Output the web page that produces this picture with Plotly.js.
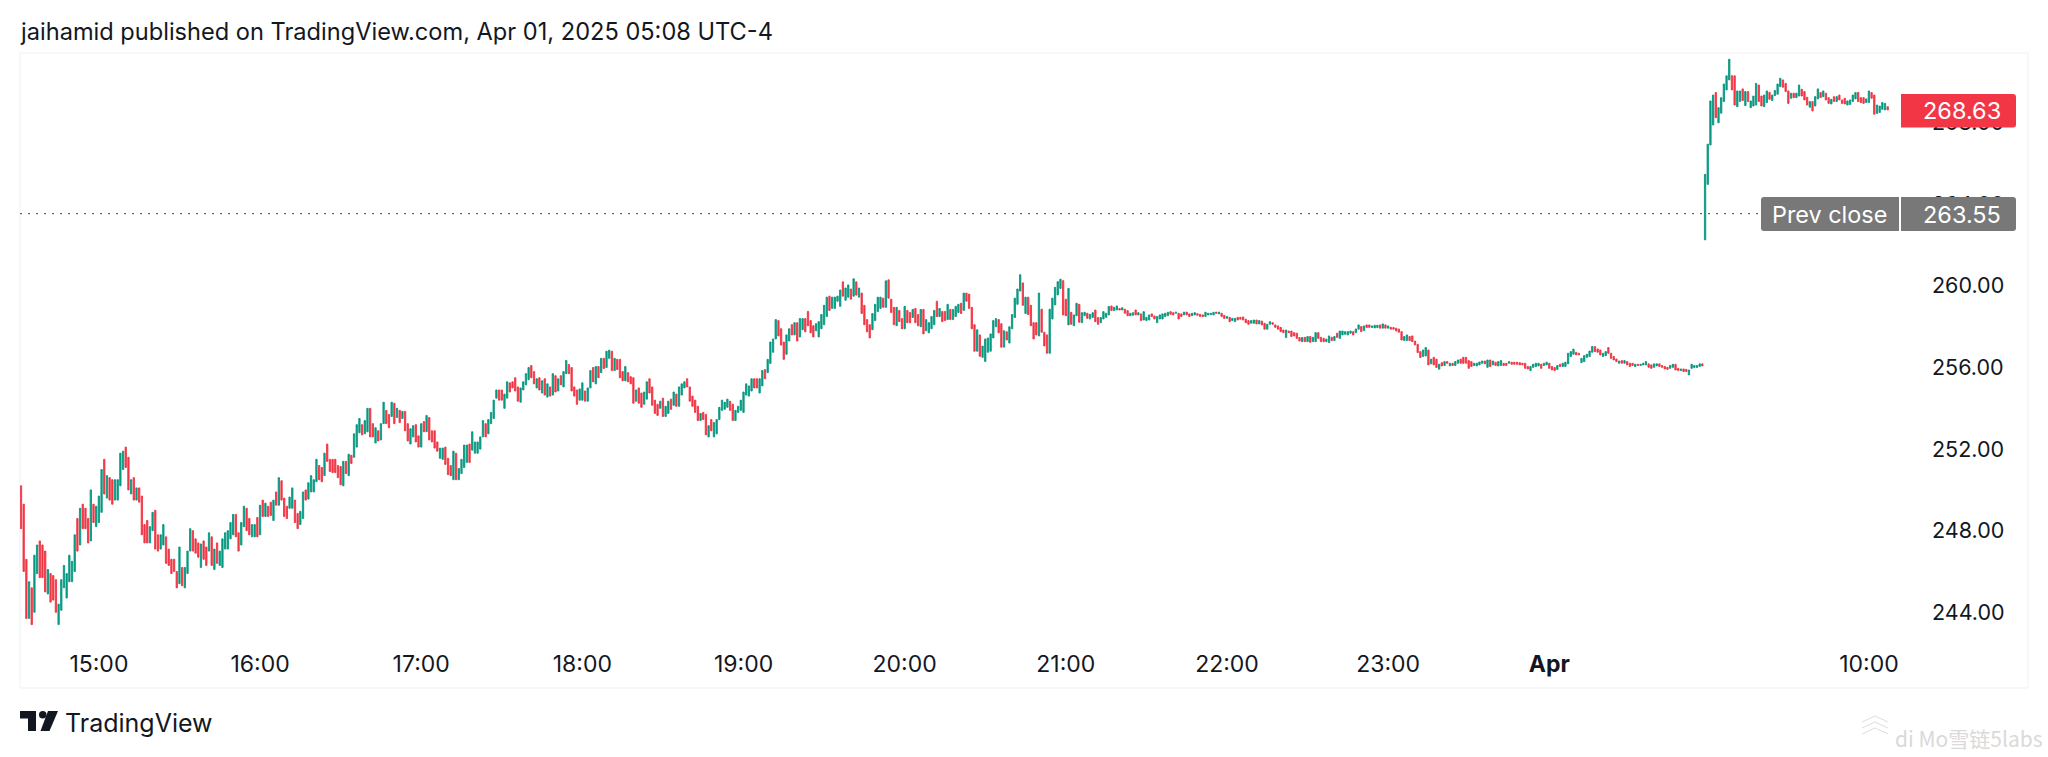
<!DOCTYPE html>
<html>
<head>
<meta charset="utf-8">
<script src="https://cdn.plot.ly/plotly-3.0.1.min.js"></script>
<style>html,body{margin:0;padding:0;background:#fff;overflow:hidden}#chart{width:2048px;height:757px}</style>
</head>
<body>
<div id="chart"></div>
<script>
// One-minute candles (open / close of each bar, in USD).
const o0=[250.2,249.3,246.6,243.7,245.2,244.0,245.9,247.5,247.3,247.0,244.9,245.9,245.8,245.6,243.4,244.1,245.2,244.7,245.5,245.5,246.0,248.6,247.3,249.3,249.1,248.6,247.5,249.3,248.2,248.4];
const c0=[248.1,246.0,243.7,245.5,243.4,246.8,247.3,245.7,245.7,245.0,246.1,244.5,244.6,244.0,244.4,245.6,246.3,245.9,246.8,246.5,247.8,247.0,249.1,248.1,248.1,247.4,250.0,248.4,249.2,249.7];
const o1=[248.9,251.5,249.6,250.6,250.5,249.5,249.5,250.2,251.0,252.1,251.6,249.8,250.6,249.5,250.1,249.7,248.3,248.5,247.4,248.0,249.0,247.8,247.1,247.3,247.7,247.1,246.6,246.6,246.0,245.4];
const c1=[251.0,249.8,250.7,249.5,249.3,250.5,250.5,251.8,251.9,251.1,250.0,250.5,249.5,250.1,249.4,247.8,247.4,247.4,248.2,248.9,247.1,247.0,247.8,248.3,246.4,246.3,245.9,246.0,245.2,247.2];
const o2=[246.2,245.2,245.9,247.0,248.0,247.6,247.4,246.2,247.5,247.2,247.0,247.7,246.1,247.4,246.3,246.2,247.1,247.1,247.6,247.8,248.8,247.9,247.3,248.2,249.1,248.6,247.7,247.7,248.65,247.8];
const c2=[245.3,246.2,247.0,248.1,247.0,246.9,246.7,247.35,246.6,246.3,247.9,246.3,247.1,246.4,247.0,247.6,247.9,248.0,248.4,248.8,247.7,247.0,248.4,249.2,248.0,247.8,248.3,248.3,247.7,249.25];
const o3=[249.5,248.7,249.2,249.4,248.5,249.9,249.25,250.45,249.6,249.2,249.1,249.1,249.5,248.85,248.3,248.6,250.0,249.55,249.9,249.9,250.4,251.2,251.1,250.7,252.25,251.5,251.5,251.5,251.2,251.15];
const c3=[248.7,249.35,248.7,248.75,249.5,249.25,250.6,249.5,248.7,248.6,249.65,250.1,248.4,248.1,248.95,249.9,249.5,250.35,250.7,250.5,251.5,250.5,250.4,251.8,251.4,250.9,250.85,250.85,250.6,250.25];
const o4=[250.2,251.4,250.7,251.7,251.6,252.1,252.8,253.2,252.75,252.85,254.0,253.25,252.3,252.9,252.45,253.25,253.9,253.7,253.6,254.25,253.55,253.9,253.5,253.85,253.25,252.25,252.6,253.2,252.65,252.1];
const c4=[251.4,250.8,251.75,251.3,252.75,253.2,253.5,252.7,253.4,254.0,252.6,252.6,253.05,252.4,253.25,254.3,253.25,253.05,254.3,253.25,254.0,253.3,253.85,252.9,252.4,253.0,253.15,252.35,252.1,253.25];
const o5=[253.35,252.85,253.55,252.9,252.9,252.35,251.55,251.5,252.1,251.55,251.2,250.5,251.8,250.5,250.8,251.1,251.35,252.25,251.95,251.8,251.8,252.0,252.6,253.25,252.75,253.25,253.5,254.5,254.9,254.9];
const c5=[252.85,253.65,252.45,252.35,252.05,251.9,252.05,252.05,251.25,250.75,250.7,251.9,250.5,251.05,251.5,252.2,252.2,251.35,252.85,252.35,252.35,252.6,253.4,252.6,253.45,253.8,254.4,254.9,254.4,254.4];
const o6=[254.0,254.5,255.25,255.3,255.5,255.05,254.3,254.9,255.15,255.4,256.1,255.8,255.0,255.5,254.75,255.45,254.55,255.05,254.65,255.6,254.85,255.6,255.05,255.7,256.15,256.0,255.05,254.9,254.4,254.4];
const c6=[254.7,255.3,254.8,255.0,254.85,254.35,255.0,255.3,255.7,256.0,255.5,255.2,255.45,254.9,255.35,254.65,255.2,254.6,255.7,254.8,255.45,255.15,255.8,256.35,255.7,254.85,254.6,254.2,254.95,255.25];
const o7=[254.85,254.35,255.0,256.0,255.2,256.05,255.75,256.45,256.0,256.45,256.8,255.85,256.4,256.4,255.8,255.35,255.75,255.55,255.5,254.35,255.0,254.75,254.2,254.45,255.45,255.05,254.4,254.2,254.0,254.5];
const c7=[254.35,255.0,255.85,255.3,256.05,255.5,256.45,255.95,256.8,256.85,255.85,256.45,255.9,255.5,255.35,256.05,255.3,255.2,254.25,254.9,254.25,254.05,254.8,255.3,254.75,254.15,253.75,253.65,254.35,253.6];
const o8=[253.6,253.75,254.45,254.15,254.7,254.1,254.65,255.0,255.45,255.05,254.6,254.4,254.1,253.4,253.8,253.7,252.6,253.45,252.6,252.75,253.45,253.9,253.95,254.05,254.35,254.2,253.4,253.8,253.9,253.8];
const c8=[254.1,254.35,253.95,254.8,254.1,255.05,255.2,255.3,255.05,254.35,254.1,253.8,253.4,253.75,253.45,252.7,253.15,252.9,253.3,253.45,254.05,254.4,254.3,254.45,253.9,253.4,253.9,254.1,254.4,254.8];
const o9=[254.65,254.6,254.85,255.45,255.45,254.75,255.1,255.9,255.75,256.2,256.75,257.4,258.3,257.9,257.25,256.65,257.3,258.1,257.6,258.2,257.5,257.85,258.4,258.75,258.3,258.05,257.8,257.5,257.9,258.1];
const c9=[255.2,255.1,255.45,255.0,255.0,255.45,255.85,255.45,256.4,257.25,257.4,258.35,257.55,257.1,256.4,257.6,257.9,257.6,258.2,257.3,258.4,258.4,257.75,258.05,257.7,257.5,258.15,258.25,258.6,259.05];
const o10=[258.5,259.5,258.9,258.9,259.25,259.0,260.2,259.3,259.45,259.85,259.5,260.2,259.45,259.65,259.05,258.35,258.1,257.85,258.3,258.75,258.9,259.4,258.95,260.3,259.35,258.95,258.05,258.8,258.4,257.9];
const c10=[259.45,258.8,259.45,259.45,259.5,259.8,259.5,259.9,260.05,259.35,260.35,259.55,259.9,258.65,258.1,257.75,257.45,258.65,259.1,259.45,259.45,258.95,260.25,259.4,258.7,258.1,258.95,258.25,257.9,259.0];
const o11=[258.8,258.7,258.45,258.9,258.6,258.0,258.85,257.8,257.7,257.9,258.1,259.25,258.5,258.75,258.75,258.35,258.85,258.35,258.5,258.7,259.15,258.8,259.65,259.6,258.95,258.1,256.8,257.6,256.5,256.3];
const c11=[258.2,258.2,258.85,258.2,258.05,258.85,257.65,258.35,258.2,258.5,258.8,258.5,258.9,258.25,258.3,259.1,258.35,258.85,259.0,259.1,258.65,259.65,259.25,258.9,257.9,256.8,257.85,256.55,257.05,257.4];
const o12=[256.75,256.8,257.45,258.0,258.35,258.15,257.0,257.75,257.2,257.9,258.45,259.1,259.75,260.15,258.65,259.45,259.05,258.2,258.2,257.55,258.86,257.73,257.6,256.7,258.38,259.07,259.56,259.88,260.26,259.35];
const c12=[257.45,257.65,258.3,258.4,257.7,257.0,257.8,257.35,258.0,258.6,259.4,259.85,260.55,259.05,259.45,258.6,258.05,257.4,257.6,259.65,257.73,257.06,256.7,258.86,259.4,259.93,260.21,260.33,258.58,258.54];
const o13=[258.09,258.71,258.05,258.54,259.1,258.2,258.54,258.66,258.38,258.45,258.82,258.45,258.2,258.38,258.46,258.58,259.02,258.79,258.82,258.9,258.82,258.86,258.79,258.54,258.56,258.82,258.58,258.63,258.33,258.3];
const c13=[259.88,258.12,258.58,259.15,258.22,258.69,258.71,258.41,258.61,258.69,258.25,258.12,258.45,258.74,258.66,258.99,258.79,258.95,259.02,258.82,258.93,258.66,258.54,258.66,258.69,258.58,258.69,258.3,258.74,258.46];
const o14=[258.33,258.63,258.53,258.2,258.38,258.38,258.5,258.54,258.74,258.69,258.66,258.66,258.63,258.58,258.72,258.63,258.54,258.58,258.64,258.61,258.58,258.5,258.58,258.59,258.58,258.72,258.63,258.66,258.56,258.41];
const c14=[258.58,258.5,258.38,258.5,258.58,258.63,258.66,258.71,258.61,258.58,258.71,258.38,258.5,258.72,258.58,258.5,258.66,258.69,258.56,258.5,258.5,258.71,258.66,258.66,258.71,258.66,258.72,258.5,258.41,258.5];
const o15=[258.46,258.3,258.25,258.46,258.46,258.48,258.37,258.3,258.17,258.17,258.33,258.14,258.28,258.17,257.88,258.12,258.2,258.09,258.04,257.97,257.84,257.47,257.79,257.79,257.71,257.68,257.47,257.27,257.48,257.27];
const c15=[258.25,258.41,258.41,258.33,258.37,258.33,258.2,258.12,258.3,258.33,258.14,258.3,258.09,257.88,258.12,258.25,258.12,257.97,257.88,257.76,257.71,257.84,257.71,257.52,257.55,257.43,257.3,257.47,257.27,257.52];
const o16=[257.52,257.27,257.27,257.71,257.48,257.43,257.27,257.22,257.48,257.32,257.68,257.43,257.6,257.63,257.6,257.68,257.76,257.71,257.88,258.01,257.81,258.09,258.09,257.96,257.94,257.96,258.09,257.93,258.09,257.93];
const c16=[257.24,257.48,257.71,257.43,257.27,257.27,257.39,257.55,257.32,257.52,257.48,257.79,257.79,257.76,257.76,257.79,257.6,257.89,258.09,257.76,258.04,257.96,257.97,258.04,258.07,258.07,257.93,258.14,257.93,258.04];
const o17=[257.97,257.96,257.93,257.89,257.76,257.32,257.32,257.52,257.55,257.3,257.14,256.78,256.54,256.57,256.86,256.18,256.5,256.41,255.92,256.24,256.1,256.29,256.08,256.21,256.1,256.21,256.41,256.5,256.5,256.34];
const c17=[257.88,257.88,257.79,257.73,257.35,257.52,257.6,257.32,257.27,257.11,256.73,256.49,256.86,256.98,256.13,256.41,256.13,256.0,256.16,256.08,256.29,256.21,256.21,256.1,256.29,256.37,256.21,256.21,256.21,255.96];
const o18=[256.29,256.1,256.08,256.13,256.21,256.32,256.01,256.37,256.13,256.26,256.08,256.1,256.21,256.21,256.21,256.26,256.26,256.26,256.24,256.21,256.21,256.05,255.85,256.01,256.05,256.08,256.16,256.1,256.13,256.21];
const c18=[256.05,256.21,256.21,256.27,256.32,256.18,256.37,256.05,256.32,256.1,256.29,256.34,256.1,256.1,256.29,256.16,256.16,256.16,256.13,256.13,255.96,255.93,256.05,256.16,256.21,256.21,255.96,256.21,256.26,255.96];
const o19=[256.05,256.0,255.91,256.16,256.05,256.05,256.18,256.54,256.65,256.75,256.7,256.24,256.29,256.5,256.54,256.75,257.03,256.91,256.86,256.54,256.58,256.98,256.7,256.54,256.42,256.21,256.34,256.21,256.29,256.21];
const c19=[255.88,255.85,256.1,256.05,256.21,256.26,256.7,256.78,256.9,256.62,256.62,256.45,256.585,256.65,256.81,257.03,256.78,256.75,256.62,256.7,256.78,256.7,256.45,256.37,256.29,256.32,256.21,256.34,256.13,256.05];
const o20=[256.21,256.05,256.16,256.1,256.13,256.13,256.18,256.13,256.01,256.08,256.18,256.1,256.05,256.01,255.96,256.01,256.16,255.96,255.85,255.93,255.91,255.64,255.96,256.0,256.0,256.05,256.18,262.26,264.98,266.91];
const c20=[256.1,256.16,256.1,256.16,256.21,256.29,256.01,255.96,256.18,256.18,256.05,256.01,255.93,255.91,256.1,256.16,255.88,255.85,255.93,255.8,255.8,255.88,256.16,256.1,256.1,256.18,256.08,265.47,266.95,269.07];
const o21=[267.89,269.48,268.0,268.47,269.04,269.61,270.1,270.31,270.3,268.79,269.04,269.66,268.84,269.53,268.74,268.82,268.87,269.85,269.31,268.79,268.99,269.49,269.09,269.33,269.4,269.77,270.1,269.93,269.56,269.2];
const c21=[269.36,268.25,268.74,269.23,269.9,270.3,271.11,269.61,268.87,269.56,269.56,269.09,269.53,269.04,269.07,269.31,269.93,269.04,268.82,269.36,269.56,269.15,269.36,269.58,269.9,270.18,269.74,269.53,268.95,269.45];
const o22=[269.45,269.23,269.31,269.64,269.53,269.25,268.76,269.04,268.82,269.17,269.48,269.28,269.45,269.23,268.92,269.28,269.04,269.36,269.12,269.2,268.87,268.9,269.04,269.17,269.49,269.23,269.23,268.99,268.99,269.48];
const c22=[269.23,269.45,269.85,269.31,269.12,268.87,269.04,268.58,269.28,269.66,269.23,269.56,269.12,268.95,269.15,269.04,269.28,269.12,268.95,268.92,269.07,269.12,269.36,269.48,269.04,268.99,268.95,269.17,269.56,269.2];
const o23=[269.36,268.46,268.5,268.66,268.63,268.79];
const c23=[268.42,268.87,268.82,268.99,268.95,268.63];

// Axis labels and reference levels
const tickLabels=['15:00','16:00','17:00','18:00','19:00','20:00','21:00','22:00','23:00','<b>Apr</b>','10:00'];
const tickBars=[29,89,149,209,269,329,389,449,509,569,688];
const priceTicks=[244,248,252,256,260,264,268];
const prevClose=263.55, lastPrice=268.63;

const open=[].concat(o0,o1,o2,o3,o4,o5,o6,o7,o8,o9,o10,o11,o12,o13,o14,o15,o16,o17,o18,o19,o20,o21,o22,o23);
const close=[].concat(c0,c1,c2,c3,c4,c5,c6,c7,c8,c9,c10,c11,c12,c13,c14,c15,c16,c17,c18,c19,c20,c21,c22,c23);
const bars=open.map((_,i)=>i);
// At this resolution wick and body cannot be told apart, so each bar spans its read extent.
const high=open.map((v,i)=>Math.max(v,close[i]));
const low=open.map((v,i)=>Math.min(v,close[i]));

const GREEN='#089981', RED='#F23645', INK='#131722', GREY='#787878', FONT='Inter, "Liberation Sans", sans-serif';
const W=2048,H=757,L=20,R=1928,T=53,B=648;
const px=x=>(x-L)/(R-L), py=y=>(B-y)/(B-T);
const P=(x,y)=>px(x).toFixed(5)+','+py(y).toFixed(5);
function rr(x0,y0,x1,y1,r,left,right){
  const a=left?r:0,b=right?r:0;
  return 'M'+P(x0+a,y0)+' L'+P(x1-b,y0)+(b?' Q'+P(x1,y0)+' '+P(x1,y0+b):'')+' L'+P(x1,y1-b)+(b?' Q'+P(x1,y1)+' '+P(x1-b,y1):'')+' L'+P(x0+a,y1)+(a?' Q'+P(x0,y1)+' '+P(x0,y1-a):'')+' L'+P(x0,y0+a)+(a?' Q'+P(x0,y0)+' '+P(x0+a,y0):'')+' Z';
}
const pshape=(path,fill,line)=>({type:'path',xref:'paper',yref:'paper',layer:'above',path,fillcolor:fill,line:line||{width:0}});
const note=(x,y,text,size,color,anchor,fam)=>({xref:'paper',yref:'paper',x:px(x),y:py(y),text,showarrow:false,xanchor:anchor||'center',yanchor:'middle',font:{family:fam||FONT,size,color}});
const logoT='M'+P(20,711)+' L'+P(36,711)+' L'+P(36,731)+' L'+P(28,731)+' L'+P(28,718.5)+' L'+P(20,718.5)+' Z';
const logoS='M'+P(48,711)+' L'+P(58,711)+' L'+P(49.5,731)+' L'+P(40.5,731)+' Z';
const chev=[716,722,728].map(y=>'M'+P(1862,y+6)+' L'+P(1875,y)+' L'+P(1888,y+6));

const trace={type:'candlestick',x:bars,open,high,low,close,
  increasing:{line:{color:GREEN,width:0.9},fillcolor:GREEN},
  decreasing:{line:{color:RED,width:0.9},fillcolor:RED},
  hoverinfo:'skip',showlegend:false};

const layout={width:W,height:H,margin:{l:L,r:W-R,t:T,b:H-B,pad:0},
  paper_bgcolor:'#fff',plot_bgcolor:'#fff',showlegend:false,dragmode:false,
  font:{family:FONT,color:INK,size:22},
  xaxis:{range:[-0.37,710],tickmode:'array',tickvals:tickBars,ticktext:tickLabels,showgrid:false,zeroline:false,showline:false,ticks:'',rangeslider:{visible:false},tickfont:{family:FONT,size:23,color:INK},fixedrange:true},
  yaxis:{side:'right',range:[242.25,271.42],tickmode:'array',tickvals:priceTicks,ticktext:priceTicks.map(v=>v.toFixed(2)),showgrid:false,zeroline:false,showline:false,ticks:'',ticklabelstandoff:3,tickfont:{family:FONT,size:21.5,color:INK},fixedrange:true},
  shapes:[
    {type:'rect',xref:'paper',yref:'paper',layer:'below',x0:0,x1:px(2028),y0:py(688),y1:1,line:{color:'#f0f1f3',width:1},fillcolor:'rgba(0,0,0,0)'},
    {type:'line',xref:'x',yref:'y',layer:'below',x0:-0.37,x1:647,y0:prevClose,y1:prevClose,line:{color:'#666',width:1.2,dash:'2px,6px'}},
    pshape(rr(1761,197,1899,231,3,true,false),GREY),
    pshape(rr(1901,197,2016,231,3,false,true),GREY),
    pshape(rr(1901,94,2016,127.5,3,false,true),RED),
    pshape(logoT,'#131722'),
    pshape(logoS,'#131722'),
    {type:'circle',xref:'paper',yref:'paper',layer:'above',x0:px(39),x1:px(46.5),y0:py(718.5),y1:py(711),fillcolor:'#131722',line:{width:0}},
    ...chev.map(p=>({type:'path',xref:'paper',yref:'paper',layer:'above',path:p,line:{color:'#dedede',width:1}}))
  ],
  annotations:[
    note(18,32,'jaihamid published on TradingView.com, Apr 01, 2025 05:08 UTC-4',23.6,INK,'left'),
    note(1829.5,214,'Prev close',23.4,'#fff'),
    note(1962,214,prevClose.toFixed(2),23.5,'#fff'),
    note(1962,110.5,lastPrice.toFixed(2),23.5,'#fff'),
    note(63,723,'TradingView',25,INK,'left'),
    note(1893,738,'di Mo雪链5labs',21,'#d9d9d9','left','"Noto Sans CJK SC", Inter, sans-serif')
  ]};
Plotly.newPlot('chart',[trace],layout,{staticPlot:true,displayModeBar:false});
</script>
</body>
</html>
